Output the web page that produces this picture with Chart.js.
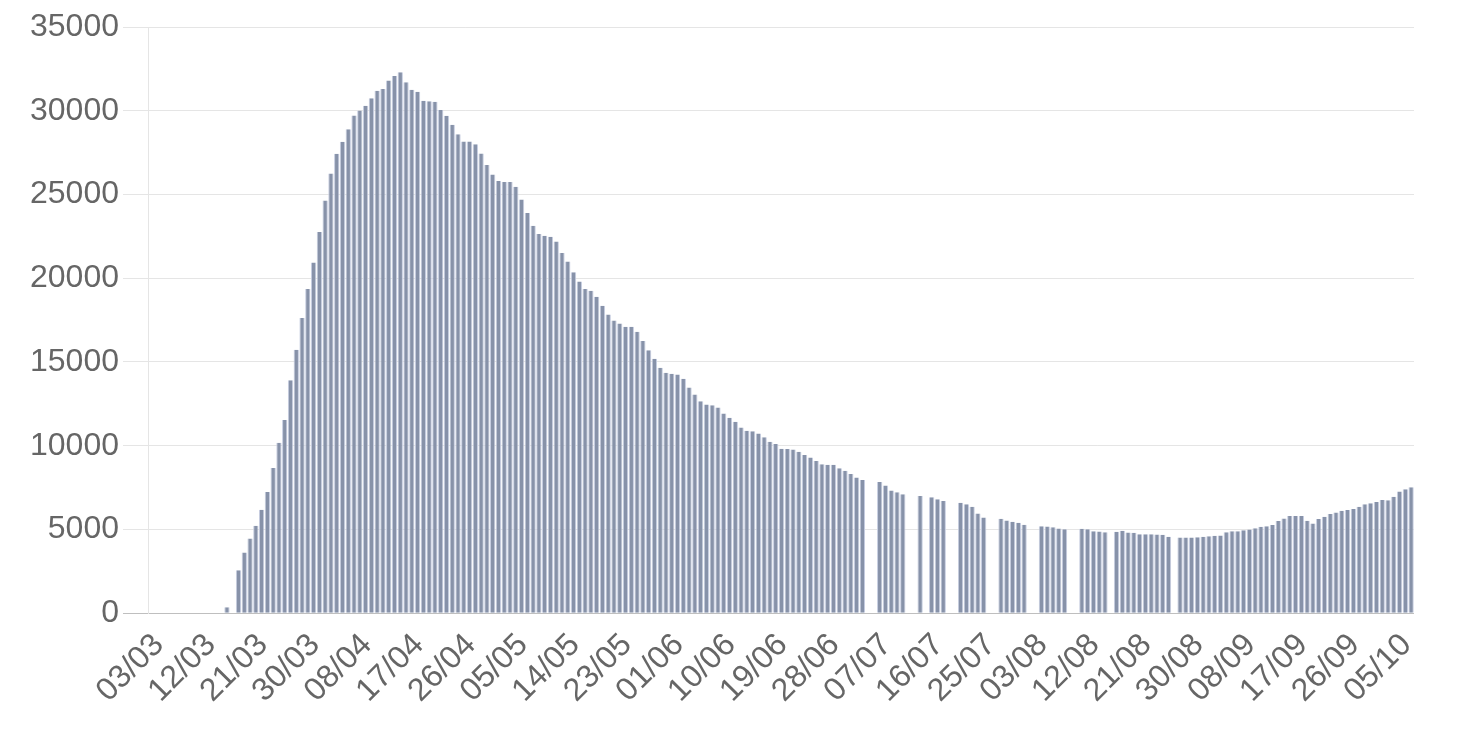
<!DOCTYPE html>
<html>
<head>
<meta charset="utf-8">
<script src="https://cdn.jsdelivr.net/npm/chart.js@4"></script>
<style>
  html, body { margin: 0; padding: 0; background: #fff; }
  #wrap { width: 1466px; height: 729px; }
</style>
</head>
<body>
<div id="wrap"><canvas id="chart"></canvas></div>
<script>
// daily values, 03/03 -> 07/10 (null = no figure that day)
const firstDay = [3, 3]; // day, month
const dayCount = 219;

const tickLabels = [
  "03/03", "12/03", "21/03", "30/03", "08/04", "17/04", "26/04", "05/05",
  "14/05", "23/05", "01/06", "10/06", "19/06", "28/06", "07/07", "16/07",
  "25/07", "03/08", "12/08", "21/08", "30/08", "08/09", "17/09", "26/09", "05/10"
];

const valuesMarch = [
  null, null, null, null, null, null, null, null, null, null, null, null, null,
  360, null, 2560, 3620, 4460, 5226, 6172, 7240, 8673, 10176, 11539, 13904,
  15732, 17620, 19354, 20946
];
const valuesApril = [
  22757, 24639, 26246, 27432, 28143, 28891, 29722, 30008, 30300, 30750,
  31200, 31300, 31800, 32070, 32292, 31700, 31260, 31140, 30600, 30560,
  30540, 30040, 29700, 29160, 28600, 28160, 28160, 28000, 27440, 26760
];
const valuesMay = [
  26200, 25800, 25740, 25740, 25460, 24700, 23900, 23140, 22640, 22540,
  22480, 22200, 21500, 21000, 20360, 19800, 19360, 19260, 18900, 18360,
  17840, 17480, 17300, 17100, 17100, 16800, 16260, 15700, 15200, 14660, 14360
];
const valuesJune = [
  14300, 14260, 14000, 13470, 13060, 12660, 12460, 12420, 12280, 11925,
  11670, 11430, 11090, 10890, 10870, 10730, 10500, 10240, 10100, 9820,
  9800, 9780, 9640, 9440, 9290, 9090, 8890, 8870, 8870, 8650
];
const valuesJuly = [
  8510, 8310, 8110, 7960, null, null, 7840, 7620, 7320, 7220,
  7100, null, null, 7000, null, 6920, 6800, 6700, null, null,
  6600, 6500, 6360, 5960, 5720, null, null, 5640, 5540, 5460, 5400
];
const valuesAugust = [
  5280, null, null, 5200, 5180, 5140, 5060, 5020, null, null,
  5040, 5020, 4900, 4880, 4840, null, 4860, 4920, 4820, 4800,
  4720, 4720, 4720, 4700, 4680, 4560, null, 4520, 4520, 4520, 4530
];
const valuesSeptember = [
  4560, 4600, 4620, 4640, 4840, 4900, 4900, 4960, 5000, 5080,
  5160, 5200, 5260, 5500, 5660, 5800, 5800, 5800, 5520, 5360,
  5620, 5760, 5920, 6020, 6120, 6160, 6220, 6360, 6500, 6560
];
const valuesOctober = [6640, 6760, 6740, 6960, 7260, 7400, 7520];

const values = [].concat(valuesMarch, valuesApril, valuesMay, valuesJune,
  valuesJuly, valuesAugust, valuesSeptember, valuesOctober);

const labels = [];
const d = new Date(2020, firstDay[1] - 1, firstDay[0]);
for (let i = 0; i < dayCount; i++) {
  labels.push(String(d.getDate()).padStart(2, "0") + "/" + String(d.getMonth() + 1).padStart(2, "0"));
  d.setDate(d.getDate() + 1);
}

Chart.defaults.font.family = "'Liberation Sans', Arial, Helvetica, sans-serif";
Chart.defaults.font.size = 32;
Chart.defaults.color = "#666";

new Chart(document.getElementById("chart").getContext("2d"), {
  type: "bar",
  data: {
    labels: labels,
    datasets: [
      {
        data: values,
        backgroundColor: "#8792a9",
        borderColor: "#c6cde0",
        borderWidth: { left: 1, right: 1, top: 0, bottom: 0 },
        borderSkipped: false,
        barPercentage: 0.92,
        categoryPercentage: 1,
      },
    ],
  },
  options: {
    responsive: true,
    maintainAspectRatio: false,
    animation: false,
    layout: { padding: { left: 26, right: 52, top: 27, bottom: 14 } },
    plugins: {
      legend: { display: false },
      tooltip: { enabled: false },
    },
    scales: {
      x: {
        grid: { display: false },
        border: { display: false },
        ticks: {
          autoSkip: false,
          maxRotation: 45,
          minRotation: 45,
          padding: 5,
          labelOffset: 7,
          callback: function (value) {
            const l = this.getLabelForValue(value);
            return tickLabels.includes(l) ? l : null;
          },
        },
      },
      y: {
        min: 0,
        max: 35000,
        border: { color: "rgba(0,0,0,0.1)" },
        grid: {
          tickLength: 26,
          color: (ctx) => (ctx.tick && ctx.tick.value === 0 ? "rgba(0,0,0,0.25)" : "rgba(0,0,0,0.1)"),
        },
        ticks: { stepSize: 5000, padding: 4, callback: (v) => String(v) },
      },
    },
  },
});
</script>
</body>
</html>
